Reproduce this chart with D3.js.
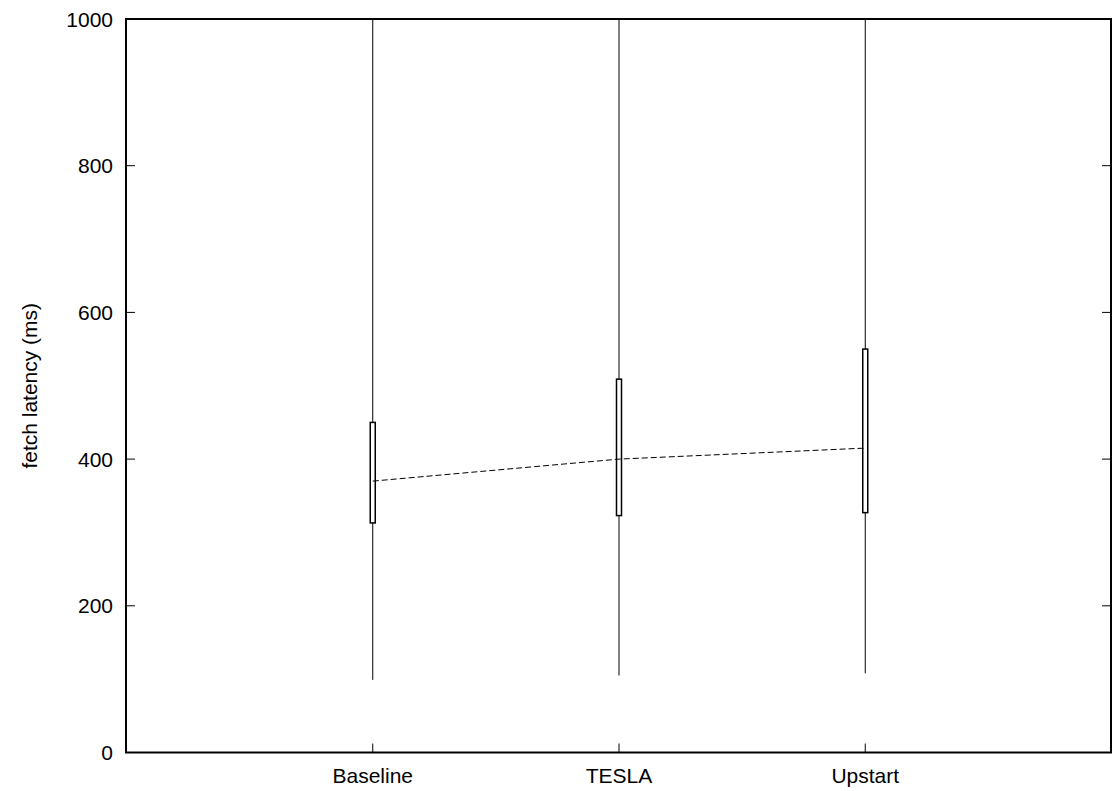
<!DOCTYPE html>
<html>
<head>
<meta charset="utf-8">
<script src="https://cdn.jsdelivr.net/npm/d3@7"></script>
<style>
  html, body { margin: 0; padding: 0; background: #fff; }
  svg { display: block; }
  text { font-family: "Liberation Sans", Arial, sans-serif; fill: #000; }
</style>
</head>
<body>
<svg id="chart" width="1113" height="791"></svg>
<script>
// Fetch latency distributions per system (ms)
const categories = ["Baseline", "TESLA", "Upstart"];
const whiskerMin = [99, 105, 108];
const boxLow     = [313, 323, 327];
const median     = [370, 400, 415];
const boxHigh    = [450, 509, 550];
const whiskerMax = [1000, 1000, 1000];
const yTicks = [0, 200, 400, 600, 800, 1000];

const data = categories.map((c, i) => ({
  name: c, pos: i + 1,
  min: whiskerMin[i], q1: boxLow[i], med: median[i], q3: boxHigh[i], max: whiskerMax[i]
}));

const svg = d3.select("#chart");
const plotLeft = 126, plotRight = 1111, plotTop = 19, plotBottom = 752.5;
const fontSize = 21;

const x = d3.scaleLinear().domain([0, 4]).range([plotLeft, plotRight]);
const y = d3.scaleLinear().domain([0, 1000]).range([plotBottom, plotTop]);

const plot = svg.append("g");

// whiskers
plot.selectAll("line.whisker").data(data).join("line")
  .attr("class", "whisker")
  .attr("x1", d => x(d.pos) + 0.5).attr("x2", d => x(d.pos) + 0.5)
  .attr("y1", d => y(d.min)).attr("y2", d => y(d.max))
  .attr("stroke", "#000").attr("stroke-width", 1);

// boxes
const bw = 5;
plot.selectAll("rect.box").data(data).join("rect")
  .attr("class", "box")
  .attr("x", d => x(d.pos) + 0.5 - bw / 2)
  .attr("width", bw)
  .attr("y", d => y(d.q3))
  .attr("height", d => y(d.q1) - y(d.q3))
  .attr("fill", "#fff").attr("stroke", "#000").attr("stroke-width", 1.5);

// median trend line
plot.append("path")
  .datum(data)
  .attr("d", d3.line().x(d => x(d.pos) + 0.5).y(d => y(d.med)))
  .attr("fill", "none").attr("stroke", "#000").attr("stroke-width", 1)
  .attr("stroke-dasharray", "6,3");

// y ticks (left and mirrored right)
const tickLen = 9;
const yt = svg.append("g");
yt.selectAll("line.l").data(yTicks).join("line")
  .attr("class", "l")
  .attr("x1", plotLeft).attr("x2", plotLeft + tickLen)
  .attr("y1", d => y(d)).attr("y2", d => y(d))
  .attr("stroke", "#000").attr("stroke-width", 1);
yt.selectAll("line.r").data(yTicks).join("line")
  .attr("class", "r")
  .attr("x1", plotRight - tickLen).attr("x2", plotRight)
  .attr("y1", d => y(d)).attr("y2", d => y(d))
  .attr("stroke", "#000").attr("stroke-width", 1);
yt.selectAll("text").data(yTicks).join("text")
  .attr("x", plotLeft - 13).attr("y", d => y(d))
  .attr("dy", "0.36em").attr("text-anchor", "end")
  .attr("font-size", fontSize)
  .text(d => d);

// x ticks
const xt = svg.append("g");
xt.selectAll("line").data(data).join("line")
  .attr("x1", d => x(d.pos) + 0.5).attr("x2", d => x(d.pos) + 0.5)
  .attr("y1", plotBottom).attr("y2", plotBottom - tickLen)
  .attr("stroke", "#000").attr("stroke-width", 1);
xt.selectAll("text").data(data).join("text")
  .attr("x", d => x(d.pos) + 0.5).attr("y", 783)
  .attr("text-anchor", "middle").attr("font-size", fontSize)
  .text(d => d.name);

// frame
svg.append("rect")
  .attr("x", plotLeft).attr("y", plotTop)
  .attr("width", plotRight - plotLeft).attr("height", plotBottom - plotTop)
  .attr("fill", "none").attr("stroke", "#000").attr("stroke-width", 2);

// axis title
svg.append("text")
  .attr("transform", `translate(37,${(plotTop + plotBottom) / 2}) rotate(-90)`)
  .attr("text-anchor", "middle").attr("font-size", fontSize)
  .text("fetch latency (ms)");
</script>
</body>
</html>
